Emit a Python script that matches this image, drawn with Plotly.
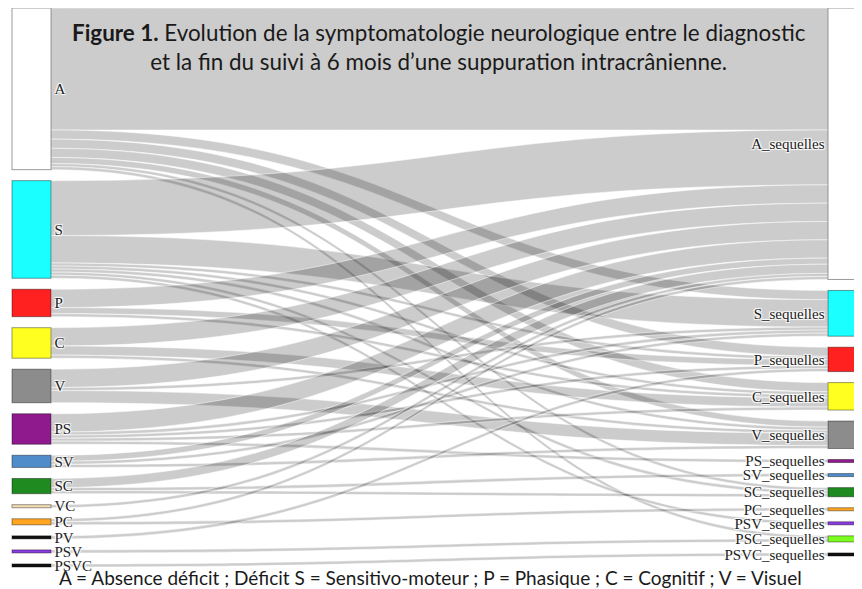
import plotly.graph_objects as go

# ---------------- data ----------------
left_labels = ["A", "S", "P", "C", "V", "PS", "SV", "SC", "VC", "PC", "PV", "PSV", "PSVC"]
left_colors = ["#ffffff", "#1affff", "#ff2020", "#ffff20", "#8c8c8c", "#8e1a8e", "#4f8cc9",
               "#1f8a1f", "#f5deb3", "#ffa520", "#111111", "#8a3be2", "#111111"]
right_labels = ["A_sequelles", "S_sequelles", "P_sequelles", "C_sequelles", "V_sequelles",
                "PS_sequelles", "SV_sequelles", "SC_sequelles", "PC_sequelles",
                "PSV_sequelles", "PSC_sequelles", "PSVC_sequelles"]
right_colors = ["#ffffff", "#1affff", "#ff2020", "#ffff20", "#8c8c8c", "#8e1a8e", "#4f8cc9",
                "#1f8a1f", "#ffa520", "#8a3be2", "#7cfc20", "#111111"]

# links: (source label, target label, value)
link_source = ["A", "A", "A", "A", "A", "A", "A",
               "S", "S", "S", "S", "S", "S", "S",
               "P", "P", "P",
               "C", "C", "C",
               "V", "V", "V",
               "PS", "PS", "PS", "PS", "PS",
               "SV", "SV", "SV",
               "SC", "SC", "SC",
               "VC",
               "PC", "PC",
               "PV",
               "PSV",
               "PSVC"]
link_target = ["A_sequelles", "S_sequelles", "P_sequelles", "C_sequelles", "V_sequelles", "SC_sequelles", "PSC_sequelles",
               "A_sequelles", "S_sequelles", "P_sequelles", "C_sequelles", "V_sequelles", "SC_sequelles", "PSV_sequelles",
               "A_sequelles", "P_sequelles", "C_sequelles",
               "A_sequelles", "C_sequelles", "V_sequelles",
               "A_sequelles", "S_sequelles", "V_sequelles",
               "A_sequelles", "S_sequelles", "P_sequelles", "C_sequelles", "PS_sequelles",
               "A_sequelles", "S_sequelles", "V_sequelles",
               "A_sequelles", "SV_sequelles", "SC_sequelles",
               "A_sequelles",
               "A_sequelles", "PC_sequelles",
               "P_sequelles",
               "PSC_sequelles",
               "PSVC_sequelles"]
link_value = [40, 3, 3, 3, 2, 1, 1,
              18, 9, 1, 1, 1, 1, 1,
              6, 2, 1,
              6, 3, 1,
              6, 1, 4,
              6, 1, 1, 1, 1,
              2, 1, 1,
              3, 1, 1,
              1,
              1, 1,
              1,
              1,
              1]

title_text = ("<b>Figure 1.</b> Evolution de la symptomatologie neurologique entre le diagnostic"
              "<br>et la fin du suivi à 6 mois d’une suppuration intracrânienne.")
caption_text = ("A = Absence déficit ; Déficit S = Sensitivo-moteur ; P = Phasique ; "
                "C = Cognitif ; V = Visuel")

# ---------------- layout helpers ----------------
# the page body has an 8px default margin, so the figure is drawn 8px in from the top-left
W_FIG, H_FIG = 854, 581
M_L, M_R, M_T, M_B = 4, 0, 0, 22
PAD = 11
THICK = 39
RIGHT_X0 = 820      # left edge of the right-hand node column (figure px)

labels = left_labels + right_labels
colors = left_colors + right_colors
idx = {lab: i for i, lab in enumerate(labels)}

def node_totals(names, key):
    tot = []
    for n in names:
        s = sum(v for a, b, v in zip(link_source, link_target, link_value) if (a if key == "s" else b) == n)
        tot.append(s)
    return tot

left_tot = node_totals(left_labels, "s")
right_tot = node_totals(right_labels, "t")
plot_h = H_FIG - M_T - M_B
plot_w = W_FIG - M_L - M_R
ky = min((plot_h - (len(left_tot) - 1) * PAD) / sum(left_tot),
         (plot_h - (len(right_tot) - 1) * PAD) / sum(right_tot))

def centers(tot):
    out, y = [], 0.0
    for v in tot:
        h = v * ky
        out.append((y + h / 2) / plot_h)
        y += h + PAD
    return out

node_y = centers(left_tot) + centers(right_tot)
x_left = (THICK / 2) / plot_w
x_right = (RIGHT_X0 - M_L + THICK / 2) / plot_w
node_x = [x_left] * len(left_labels) + [x_right] * len(right_labels)

fig = go.Figure(go.Sankey(
    arrangement="fixed",
    node=dict(
        label=labels,
        color=colors,
        x=node_x,
        y=node_y,
        pad=PAD,
        thickness=THICK,
        line=dict(color="rgba(0,0,0,0.4)", width=1),
    ),
    link=dict(
        source=[idx[s] for s in link_source],
        target=[idx[t] for t in link_target],
        value=link_value,
        color="rgba(0,0,0,0.2)",
        line=dict(color="white", width=0.5),
    ),
    textfont=dict(family="Liberation Serif", size=15, color="#222222"),
))

fig.add_annotation(text=title_text, xref="paper", yref="paper",
                   x=(431 - M_L) / plot_w, y=1 - (39.5 - M_T) / plot_h,
                   xanchor="center", yanchor="middle", showarrow=False, align="center",
                   font=dict(family="Lato", size=22.4, color="#1a1a1a"))
fig.add_annotation(text=caption_text, xref="paper", yref="paper",
                   x=(422 - M_L) / plot_w, y=0,
                   xanchor="center", yanchor="middle", yshift=-10, showarrow=False,
                   font=dict(family="Lato", size=19, color="#1a1a1a"))

fig.update_layout(width=W_FIG, height=H_FIG,
                  margin=dict(l=M_L, r=M_R, t=M_T, b=M_B),
                  paper_bgcolor="white", plot_bgcolor="white")

fig.write_html("out.html")
